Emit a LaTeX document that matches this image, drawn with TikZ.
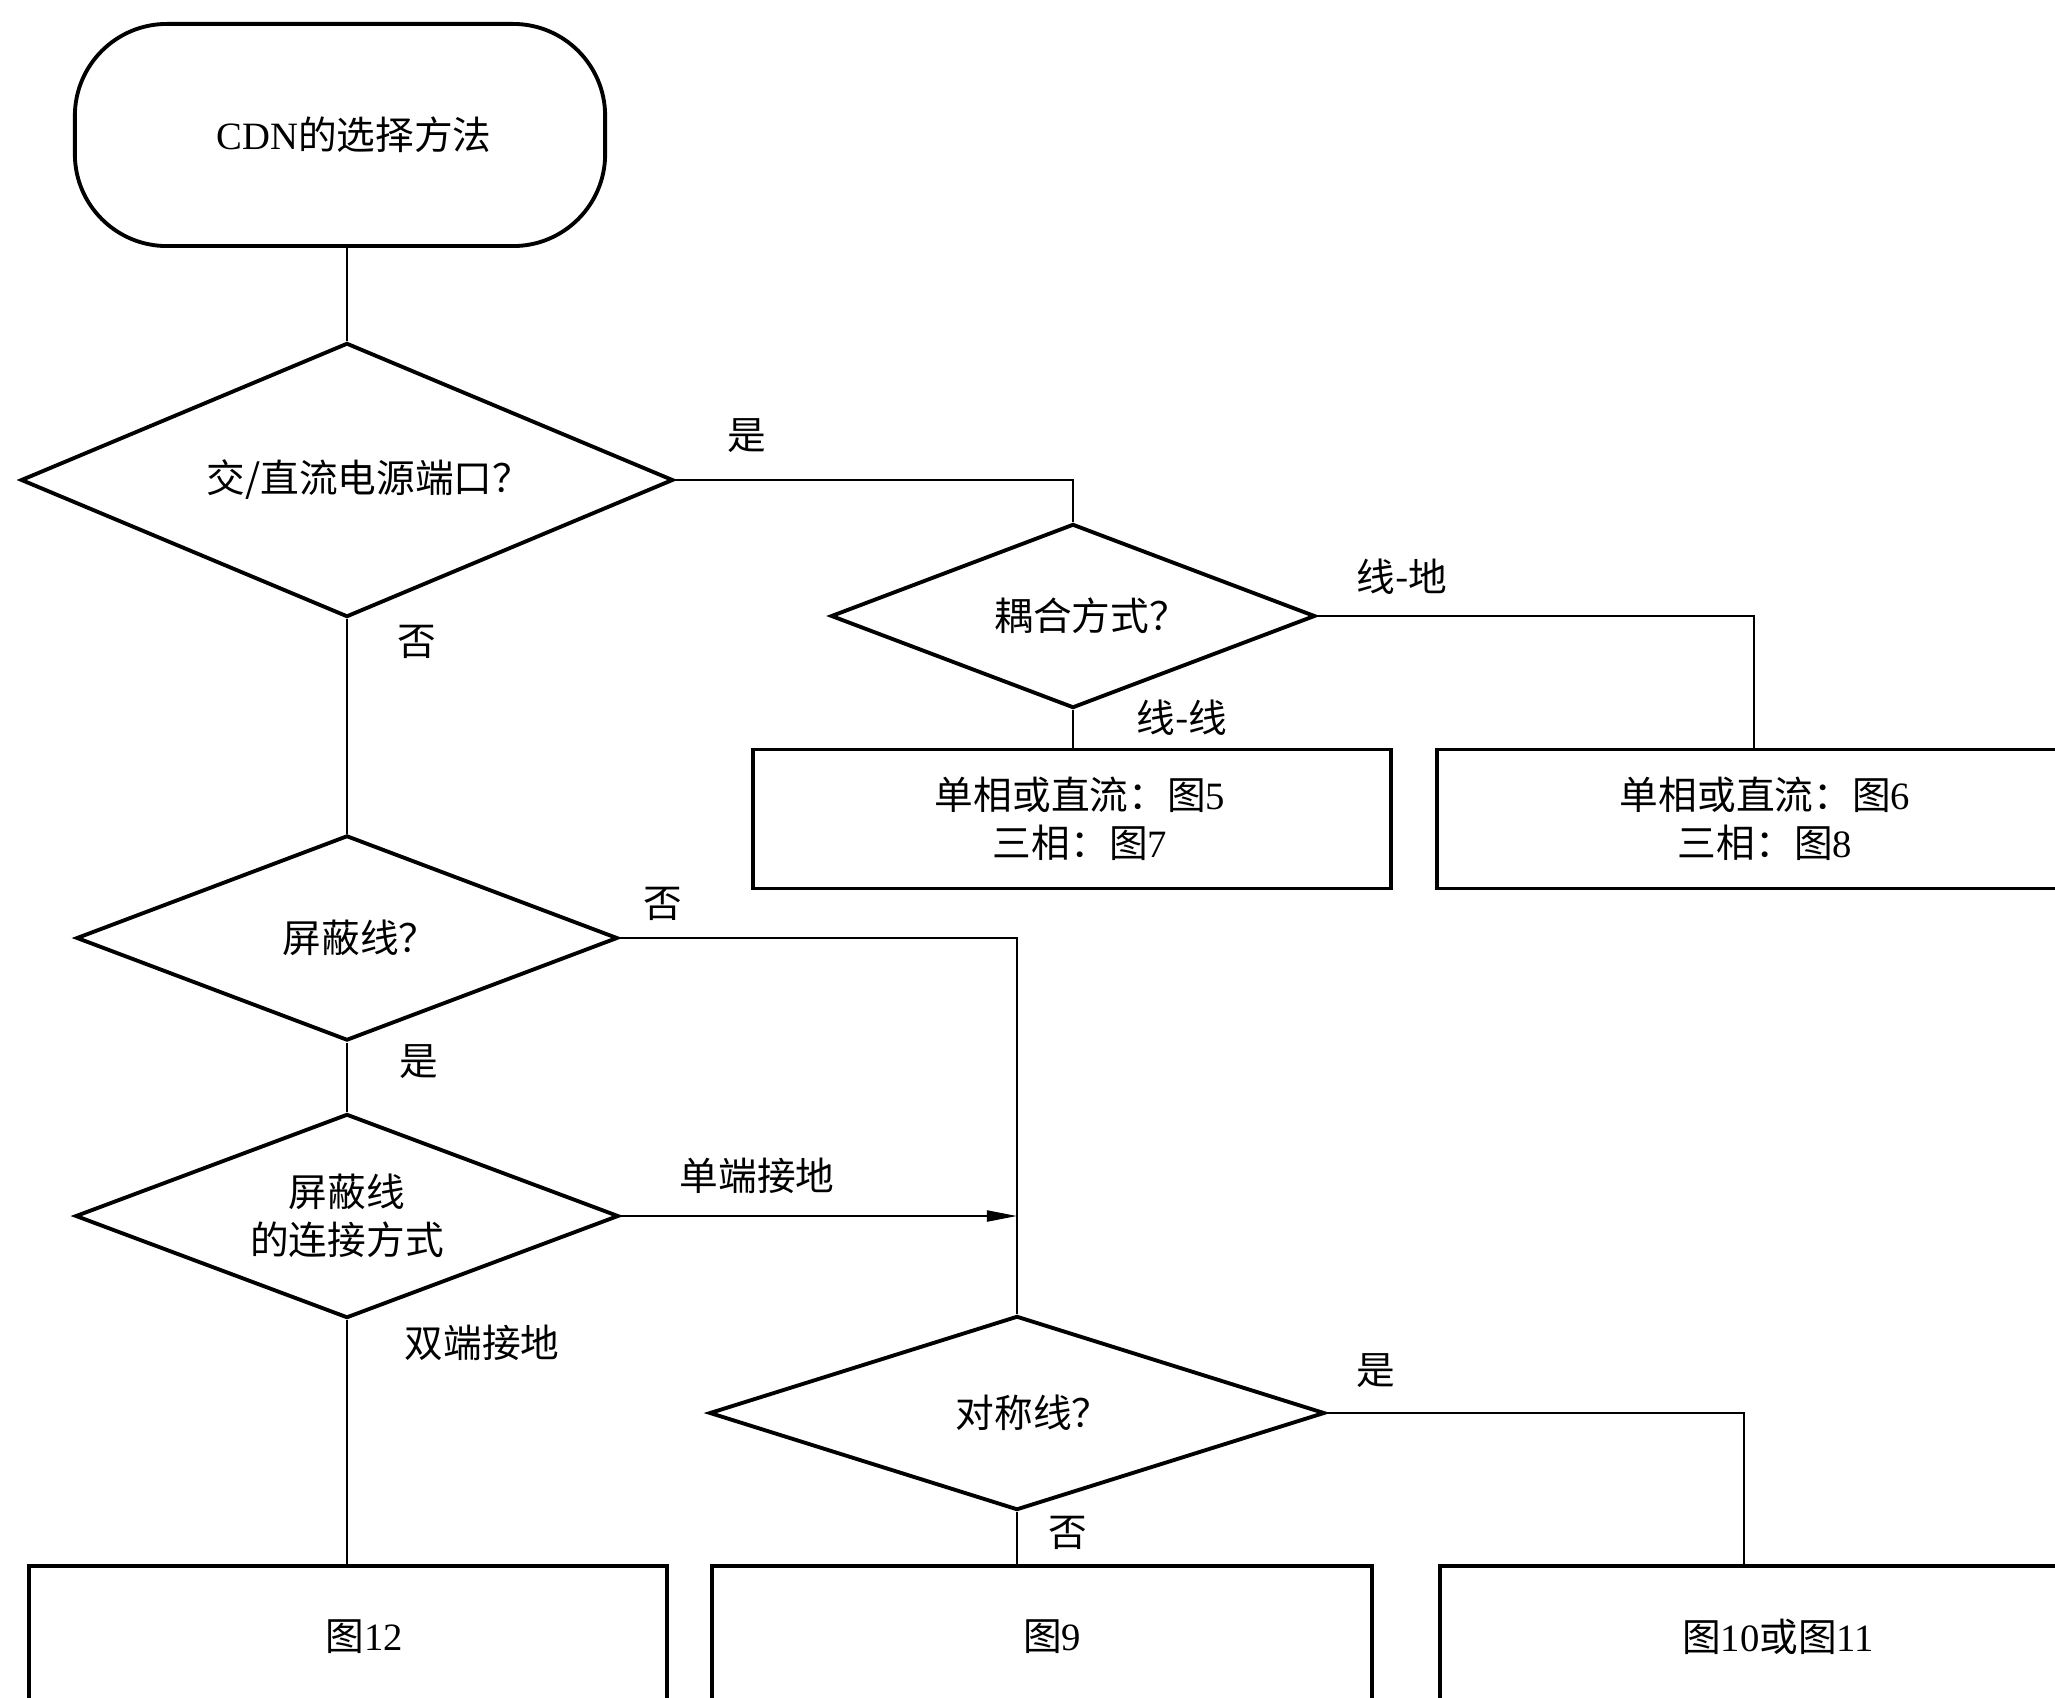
\documentclass[tikz,border=0pt]{standalone}
\usepackage{fontspec}
\setmainfont{Liberation Serif}
\newfontfamily\cjk{Noto Sans CJK SC}
\usetikzlibrary{shapes.geometric,arrows.meta,calc}
\begin{document}
\begin{tikzpicture}[x=0.01cm,y=-0.01cm,
  shapeline/.style={draw=black,line width=1.1pt},
  dec/.style={shapeline,diamond,inner sep=0pt,align=center,
    font=\fontsize{11pt}{13.5pt}\selectfont},
  outbox/.style={shapeline,rectangle,inner sep=0pt,align=center,
    font=\fontsize{11pt}{13.6pt}\selectfont},
  conn/.style={draw=black,line width=0.6pt},
  lbl/.style={inner sep=0pt,font=\fontsize{11pt}{13pt}\selectfont\cjk}
]
\useasboundingbox (0,0) rectangle (2055,1697);
\begin{scope}
\clip (0,0) rectangle (2055,1697);
% start terminal
\node[shapeline,rectangle,rounded corners=0.92cm,minimum width=5.3cm,
  minimum height=2.22cm,font=\fontsize{11pt}{13pt}\selectfont] (start) at (340,135)
  {\hspace*{0.28cm}CDN{\cjk 的选择方法}};
% decisions
\node[dec,aspect=2.38,minimum width=6.52cm,minimum height=2.74cm] (d1) at (347,480)
  {\hspace*{0.44cm}\cjk 交/直流电源端口？};
\node[dec,aspect=2.63,minimum width=4.84cm,minimum height=1.84cm] (d2) at (1073,616)
  {\hspace*{0.36cm}\cjk 耦合方式？};
\node[dec,aspect=2.64,minimum width=5.41cm,minimum height=2.05cm] (d3) at (347,938)
  {\hspace*{0.26cm}\cjk 屏蔽线？};
\node[dec,aspect=2.66,minimum width=5.43cm,minimum height=2.04cm] (d4) at (347,1216)
  {\cjk 屏蔽线\\\cjk 的连接方式};
\node[dec,aspect=3.17,minimum width=6.15cm,minimum height=1.94cm] (d5) at (1017,1413)
  {\hspace*{0.32cm}\cjk 对称线？};
% outcome boxes
\node[outbox,minimum width=6.37cm,minimum height=1.39cm] (ba) at (1072,819)
  {\hspace*{0.16cm}{\cjk 单相或直流：图}5\\\hspace*{0.16cm}{\cjk 三相：图}7};
\node[outbox,minimum width=6.4cm,minimum height=1.39cm] (bb) at (1757,819)
  {\hspace*{0.16cm}{\cjk 单相或直流：图}6\\\hspace*{0.16cm}{\cjk 三相：图}8};
\node[outbox,minimum width=6.37cm,minimum height=1.42cm] (b12) at (348,1637)
  {\hspace*{0.32cm}{\cjk 图}12};
\node[outbox,minimum width=6.6cm,minimum height=1.42cm] (b9) at (1042,1637)
  {\hspace*{0.2cm}{\cjk 图}9};
\node[outbox,minimum width=6.4cm,minimum height=1.42cm] (b1011) at (1760,1637)
  {\hspace*{0.36cm}{\cjk 图}10{\cjk 或图}11};
% free ends
\coordinate (cb) at (1754,750);
\coordinate (c1011) at (1744,1566);
% connectors
\draw[conn] (d1.north) -- (d1.north |- start.south);
\draw[conn] (d1.east) -| (d2.north);
\draw[conn] (d2.south) -- (d2.south |- ba.north);
\draw[conn] (d2.east) -| (cb);
\draw[conn] (d1.south) -- (d3.north);
\draw[conn] (d3.east) -| (d5.north);
\draw[conn] (d3.south) -- (d4.north);
\draw[conn,-{Triangle[length=0.3cm,width=0.11cm]}] (d4.east) -- (d4.east -| d5.north);
\draw[conn] (d4.south) -- (d4.south |- b12.north);
\draw[conn] (d5.south) -- (d5.south |- b9.north);
\draw[conn] (d5.east) -| (c1011);
% labels
\node[lbl] (l1) at (747,436) {是};
\node[lbl] (l2) at (417,642) {否};
\node[lbl] (l3) at (1402,577) {线-地};
\node[lbl] (l4) at (1182,718) {线-线};
\node[lbl] (l5) at (663,904) {否};
\node[lbl] (l6) at (419,1062) {是};
\node[lbl] (l7) at (757,1176) {单端接地};
\node[lbl] (l8) at (482,1343) {双端接地};
\node[lbl] (l9) at (1376,1371) {是};
\node[lbl] (l10) at (1068,1533) {否};
\end{scope}
\end{tikzpicture}
\end{document}
